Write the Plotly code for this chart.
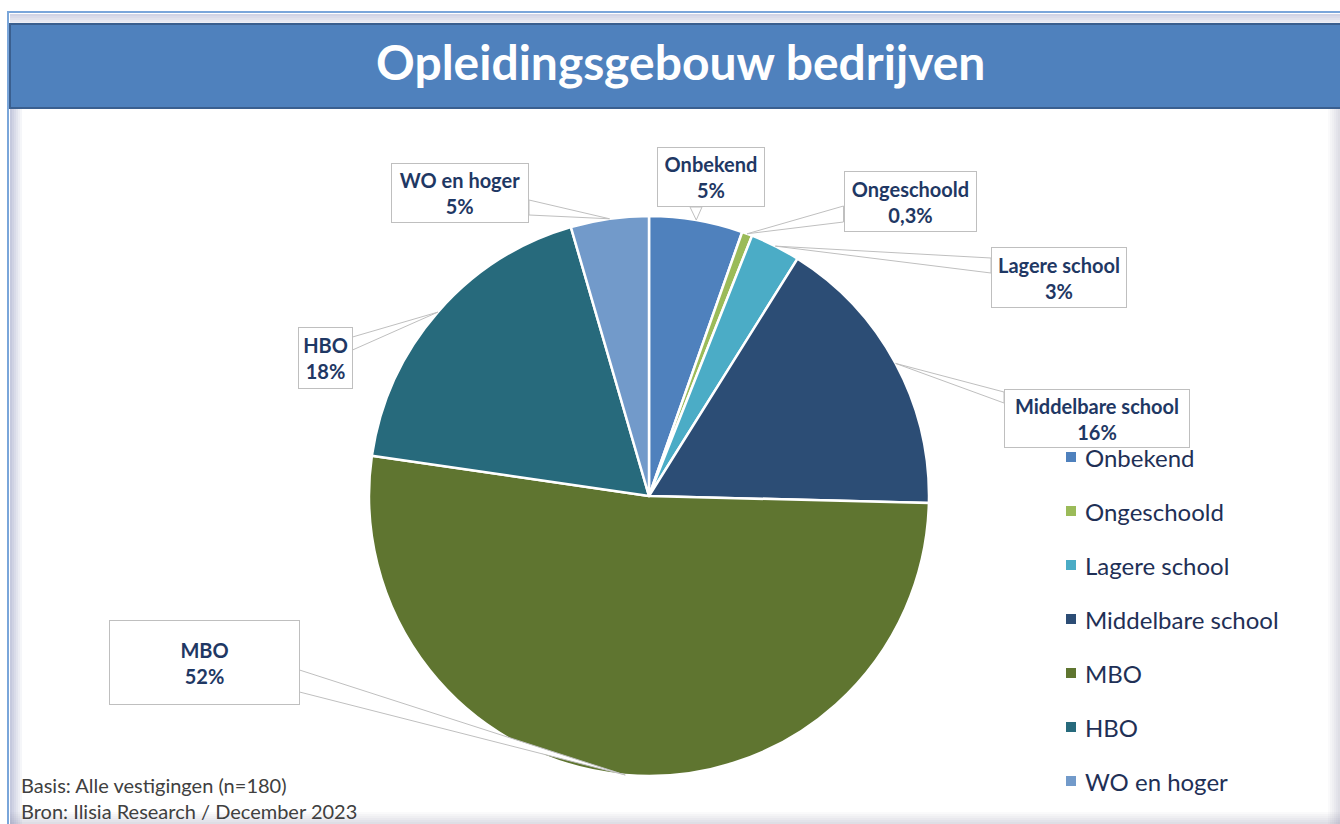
import plotly.graph_objects as go
import numpy as np

# ---------------- data ----------------
categories = ["Onbekend", "Ongeschoold", "Lagere school", "Middelbare school", "MBO", "HBO", "WO en hoger"]
values = [5.4, 0.6, 2.9, 16.5, 51.9, 18.2, 4.5]          # slice sizes
pct_labels = ["5%", "0,3%", "3%", "16%", "52%", "18%", "5%"]  # printed labels
colors = ["#4F81BD", "#9BBB59", "#4BACC6", "#2C4D75", "#5F7530", "#276A7C", "#729ACA"]

title_text = "Opleidingsgebouw bedrijven"
footnotes = ["Basis: Alle vestigingen (n=180)", "Bron: Ilisia Research / December 2023"]

# ---------------- layout helpers ----------------
W, H = 1340, 824
def X(px): return px / W
def Y(py): return 1 - py / H

cx, cy, R = 649, 496, 280

# label box styling: centre x, centre y, width, height, side, base offsets
boxes = [
    (711, 177, 108, 60, "bottom", (-21, -9)),
    (910, 201, 133, 61, "left", (5, 21)),
    (1059, 278, 136, 61, "left", (-20, -5)),
    (1097, 418, 186, 59, "left", (-26, -15)),
    (204, 662, 191, 85, "right", (8, 30)),
    (325, 358, 55, 62, "right", (-21, -8)),
    (460, 193, 138, 60, "right", (7, 22)),
]

fig = go.Figure()
fig.add_trace(go.Pie(
    labels=categories, values=values, sort=False, direction="clockwise", rotation=0,
    marker=dict(colors=colors, line=dict(color="white", width=2.5)),
    textinfo="none", hoverinfo="label+percent", showlegend=False,
    domain=dict(x=[X(cx - R), X(cx + R)], y=[Y(cy + R), Y(cy - R)]),
))

shapes = []
annotations = []

# frame
shapes.append(dict(type="rect", xref="paper", yref="paper", x0=X(8), x1=X(1346), y0=Y(830), y1=Y(12),
                   line=dict(color="#7AA6DA", width=2), fillcolor="rgba(0,0,0,0)", layer="below"))
for i in range(6):
    op = 0.35 * (1 - i / 6)
    shapes.append(dict(type="rect", xref="paper", yref="paper", x0=X(10 + 2 * i), x1=X(12 + 2 * i),
                       y0=Y(824), y1=Y(24), line=dict(width=0), fillcolor=f"rgba(90,100,160,{op:.3f})", layer="below"))
    shapes.append(dict(type="rect", xref="paper", yref="paper", x0=X(10), x1=X(1346),
                       y0=Y(16 + 2 * i), y1=Y(14 + 2 * i), line=dict(width=0),
                       fillcolor=f"rgba(90,100,160,{op*0.8:.3f})", layer="below"))
    shapes.append(dict(type="rect", xref="paper", yref="paper", x0=X(1338 - 2 * i), x1=X(1340 - 2 * i),
                       y0=Y(824), y1=Y(108), line=dict(width=0), fillcolor=f"rgba(120,120,150,{op*0.7:.3f})", layer="below"))
    shapes.append(dict(type="rect", xref="paper", yref="paper", x0=X(10), x1=X(1346),
                       y0=Y(824 - 2 * i), y1=Y(822 - 2 * i), line=dict(width=0),
                       fillcolor=f"rgba(120,120,150,{op*0.7:.3f})", layer="below"))
# title bar
shapes.append(dict(type="rect", xref="paper", yref="paper", x0=X(10), x1=X(1346), y0=Y(108), y1=Y(24),
                   line=dict(color="#3A5F8F", width=2), fillcolor="#4F81BD", layer="below"))

annotations.append(dict(text="<b>" + title_text + "</b>", x=X(680), y=Y(61), xref="paper", yref="paper",
                        xanchor="center", yanchor="middle", showarrow=False,
                        font=dict(family="Lato", size=48, color="white")))

# callout wedges and boxes
total = sum(values)
cum = np.cumsum([0] + values[:-1])
for i, (cat, v) in enumerate(zip(categories, values)):
    a = np.deg2rad((cum[i] + v / 2) / total * 360)
    px_, py_ = cx + R * np.sin(a), cy - R * np.cos(a)
    bx, by, bw, bh, side, (o1, o2) = boxes[i]
    if side == "left":
        b1 = (bx - bw / 2, by + o1); b2 = (bx - bw / 2, by + o2)
    elif side == "right":
        b1 = (bx + bw / 2, by + o1); b2 = (bx + bw / 2, by + o2)
    else:
        b1 = (bx + o1, by + bh / 2); b2 = (bx + o2, by + bh / 2)
    path = (f"M {X(b1[0])} {Y(b1[1])} L {X(px_)} {Y(py_)} L {X(b2[0])} {Y(b2[1])} Z")
    shapes.append(dict(type="path", xref="paper", yref="paper", path=path,
                       line=dict(color="#BFBFBF", width=1), fillcolor="white", layer="above"))
    annotations.append(dict(text=f"<b>{cat}<br>{pct_labels[i]}</b>", x=X(bx), y=Y(by),
                            xref="paper", yref="paper", xanchor="center", yanchor="middle",
                            showarrow=False, width=bw - 2, height=bh - 2, align="center", valign="middle",
                            bgcolor="white", bordercolor="#BFBFBF", borderwidth=1, borderpad=0,
                            font=dict(family="Lato", size=20, color="#1F3864")))

# legend (manual)
for i, cat in enumerate(categories):
    ly = 457 + 54 * i
    shapes.append(dict(type="rect", xref="paper", yref="paper", x0=X(1066), x1=X(1076),
                       y0=Y(ly + 5), y1=Y(ly - 5), line=dict(width=0), fillcolor=colors[i], layer="above"))
    annotations.append(dict(text=cat, x=X(1083), y=Y(ly), xref="paper", yref="paper",
                            xanchor="left", yanchor="middle", showarrow=False,
                            font=dict(family="Lato", size=24, color="#1F3056")))

# footnotes
for i, t in enumerate(footnotes):
    annotations.append(dict(text=t, x=X(19), y=Y(785 + 26 * i), xref="paper", yref="paper",
                            xanchor="left", yanchor="middle", showarrow=False,
                            font=dict(family="Lato", size=20, color="#404040")))

fig.update_layout(width=W, height=H, margin=dict(l=0, r=0, t=0, b=0),
                  paper_bgcolor="white", plot_bgcolor="white",
                  shapes=shapes, annotations=annotations, showlegend=False)

fig.write_html("out.html", config={"displayModeBar": False},
               post_script="document.body.style.margin='0';document.body.style.overflow='hidden';")
